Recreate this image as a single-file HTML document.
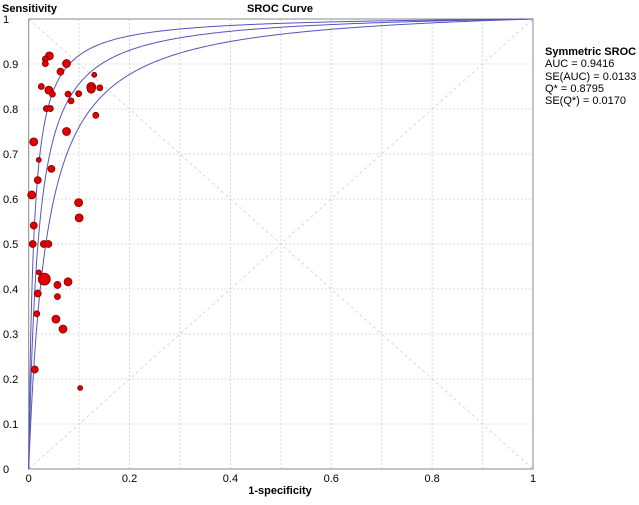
<!DOCTYPE html>
<html><head><meta charset="utf-8"><style>
body{margin:0;background:#fff;font-family:"Liberation Sans",sans-serif}
svg text{font-family:"Liberation Sans",sans-serif}
</style></head><body>
<svg id="c" width="639" height="500">
<text x="2" y="12" font-size="11" font-weight="bold">Sensitivity</text>
<text x="280" y="12" font-size="11" font-weight="bold" text-anchor="middle">SROC Curve</text>
<text x="280" y="494" font-size="11" font-weight="bold" text-anchor="middle">1-specificity</text>
<g font-size="11">
<text x="545" y="55" font-weight="bold">Symmetric SROC</text>
<text x="545" y="67">AUC = 0.9416</text>
<text x="545" y="80">SE(AUC) = 0.0133</text>
<text x="545" y="92">Q* = 0.8795</text>
<text x="545" y="104">SE(Q*) = 0.0170</text>
</g>
</svg>
<script>
const studyFpr=[0.041,0.033,0.033,0.063,0.075,0.025,0.040,0.047,0.035,0.043,0.078,0.084,0.099,0.124,0.124,0.130,0.141,0.133,0.075,0.010,0.020,0.018,0.045,0.006,0.099,0.100,0.010,0.008,0.030,0.039,0.020,0.031,0.057,0.078,0.018,0.057,0.016,0.054,0.068,0.012,0.102];
const studyTpr=[0.918,0.911,0.901,0.883,0.901,0.850,0.842,0.833,0.801,0.801,0.833,0.818,0.834,0.849,0.844,0.876,0.847,0.786,0.750,0.727,0.687,0.642,0.667,0.609,0.592,0.558,0.541,0.500,0.500,0.500,0.437,0.422,0.409,0.416,0.390,0.383,0.345,0.333,0.311,0.221,0.180];
const studyWeight=[4,3,3,3.5,4,3,4,3,3,3,3,3,3,4.5,4,2.5,3,3,4,4,2.5,3.5,3.5,4,4,4,3.5,3.5,3.5,3.5,2.5,6,3.5,4,3.5,3,3,4,4,3.5,2.5];
const curveD=[4.63,3.98,3.35];
const xTicks=[0,0.2,0.4,0.6,0.8,1];
const yTicks=[0,0.1,0.2,0.3,0.4,0.5,0.6,0.7,0.8,0.9,1];
const X0=28.7,X1=533,Y0=469,Y1=19;
const sx=v=>X0+v*(X1-X0), sy=v=>Y0-v*(Y0-Y1);
const svg=document.getElementById('c'),NS='http://www.w3.org/2000/svg';
function mk(t,a,p){const e=document.createElementNS(NS,t);for(const k in a)e.setAttribute(k,a[k]);(p||svg).appendChild(e);return e;}
for(let i=1;i<=10;i++){
 const v=i/10;
 const gx=mk('line',{x1:sx(v),x2:sx(v),y1:Y0,y2:Y1,stroke:'#d8d8d8','stroke-dasharray':'2,2'});
 
 
 const gy=mk('line',{x1:X0,x2:X1,y1:sy(v),y2:sy(v),stroke:'#d8d8d8','stroke-dasharray':'2,2'});
 
 
}
const d1=mk('line',{x1:sx(0),y1:sy(0),x2:sx(1),y2:sy(1),stroke:'#d8d8d8','stroke-dasharray':'3,3'});


const d2=mk('line',{x1:sx(0),y1:sy(1),x2:sx(1),y2:sy(0),stroke:'#d8d8d8','stroke-dasharray':'3,3'});


const fr=mk('rect',{x:X0,y:Y1,width:X1-X0,height:Y0-Y1,fill:'none',stroke:'#888'});


xTicks.forEach(v=>{const t=mk('text',{x:sx(v),y:482,'font-size':11,'text-anchor':'middle'});t.textContent=String(v);
 
 });
yTicks.forEach(v=>{const t=mk('text',{x:3,y:sy(v)+4,'font-size':11});t.textContent=String(v);
 
 });
const logit=p=>Math.log(p/(1-p));
curveD.forEach(D=>{let d='';
 for(let i=0;i<=400;i++){const f=Math.pow(i/400,3);const lf=f<=0?-40:logit(Math.min(f,0.999999));
  const t=f<=0?0:1/(1+Math.exp(-(lf+D)));d+=(i?'L':'M')+sx(f).toFixed(2)+','+sy(t).toFixed(2);}
 const p=mk('path',{d:d,fill:'none',stroke:'#5555bb','stroke-width':1});
 
 });
studyFpr.forEach((f,i)=>{const c=mk('circle',{cx:sx(f),cy:sy(studyTpr[i]),r:studyWeight[i],fill:'#e00000',stroke:'#800000','stroke-width':0.8});
 
 });
</script>
</body></html>
